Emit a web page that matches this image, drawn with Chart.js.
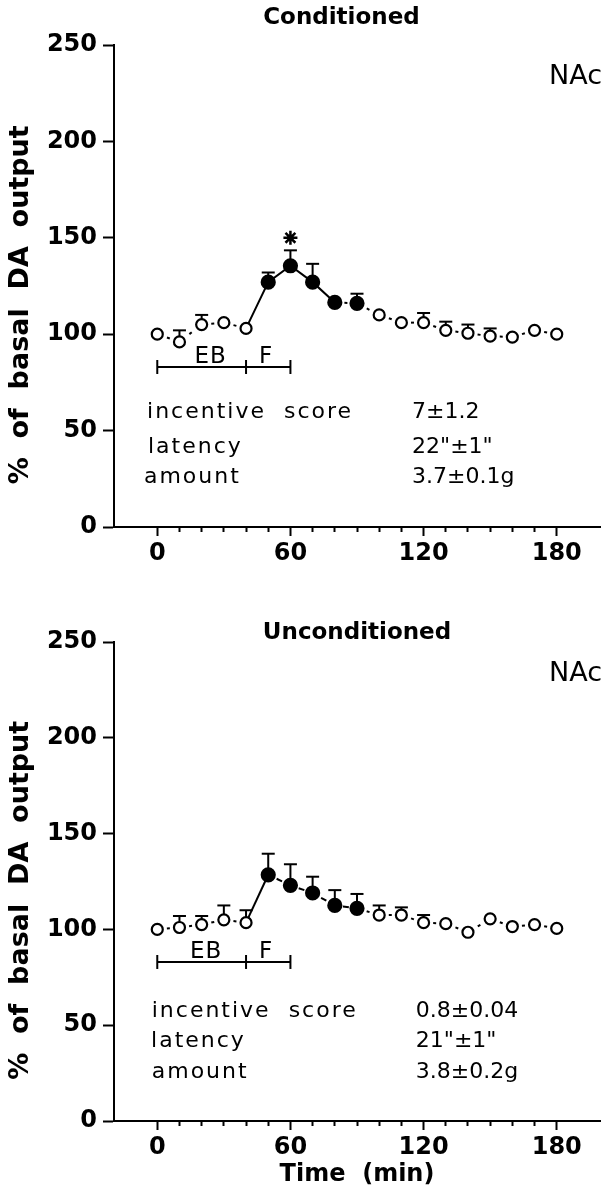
<!DOCTYPE html>
<html>
<head>
<meta charset="utf-8">
<script src="https://cdn.jsdelivr.net/npm/chart.js@4.4.1/dist/chart.umd.min.js"></script>
<style>
  body { margin: 0; background: #fff; }
  canvas { display: block; }
</style>
</head>
<body>
<canvas id="condChart" width="612" height="600"></canvas>
<canvas id="uncondChart" width="612" height="600"></canvas>
<script>
// sampling times (min)
var times = [0, 10, 20, 30, 40, 50, 60, 70, 80, 90, 100, 110, 120, 130, 140, 150, 160, 170, 180];

// Conditioned: % of basal DA output, mean and upper error
var condMean = [100, 96, 105, 106, 103, 127, 135.5, 127, 116.5, 116, 110, 106, 106, 102, 100.5, 99, 98.5, 102, 100];
var condErr  = [0, 6, 5, 0, 0, 5, 8, 9.5, 0, 5, 0, 0, 5, 4.5, 4.5, 4, 0, 0, 0];

// Unconditioned
var uncondMean = [100, 101, 102.5, 105, 103.5, 128.5, 123, 119, 112.5, 111, 107.5, 107.5, 103.5, 103, 98.5, 105.5, 101.5, 102.5, 100.5];
var uncondErr  = [0, 6, 4.5, 7.5, 6.5, 11, 11, 8.5, 8, 7.5, 5, 4, 4, 0, 0, 0, 0, 0, 0];

// samples taken during food (filled symbols)
var filledTimes = [50, 60, 70, 80, 90];
var xLabelTimes = [0, 60, 120, 180];
var yTickStep = 50;

// EB / F bar under the curve
var phaseTimes = [0, 40, 60];
var phaseNames = ['EB', 'F'];
var phaseLevel = 83;

// significant point (conditioned only)
var condStar = [60];
var starLevel = 150;

var condInfo = [['incentive  score', '7±1.2'], ['latency', '22"±1"'], ['amount', '3.7±0.1g']];
var uncondInfo = [['incentive  score', '0.8±0.04'], ['latency', '21"±1"'], ['amount', '3.8±0.2g']];

Chart.defaults.font.family = '"DejaVu Sans"';
Chart.defaults.color = '#000';

// line between two symbols: solid, or one short dash / dot in the middle
function segDash(kinds, which) {
  return function(ctx) {
    var kind = kinds[ctx.p0DataIndex];
    if (kind === 'solid') return which === 'dash' ? [] : 0;
    var len = Math.hypot(ctx.p1.x - ctx.p0.x, ctx.p1.y - ctx.p0.y);
    var d = kind === 'dash' ? 6 : 3;
    if (which === 'dash') return [d, len];
    return len / 2 + 1.5 * d;
  };
}

var panelText = {
  id: 'panelText',
  afterDatasetsDraw: function(chart, args, opts) {
    var ctx = chart.ctx, xs = chart.scales.x, ys = chart.scales.y, area = chart.chartArea;
    ctx.save();
    ctx.fillStyle = '#000';
    ctx.textBaseline = 'middle';
    ctx.textAlign = 'center';
    ctx.font = 'bold ' + opts.titleSize + 'px "DejaVu Sans"';
    ctx.fillText(opts.title, xs.getPixelForValue(opts.titleX), area.top + opts.titleDy);

    ctx.textAlign = 'right';
    ctx.font = '27px "DejaVu Sans"';
    ctx.fillText('NAc', area.right + 2, area.top + 32);

    ctx.textBaseline = 'alphabetic';
    ctx.letterSpacing = '1px';
    ctx.textAlign = 'center';
    ctx.font = '23px "DejaVu Sans"';
    phaseNames.forEach(function(n, i) {
      ctx.fillText(n, xs.getPixelForValue(opts.phaseX[i]), ys.getPixelForValue(phaseLevel + 2));
    });

    ctx.textAlign = 'left';
    ctx.font = '22px "DejaVu Sans"';
    opts.info.forEach(function(row, i) {
      var y = ys.getPixelForValue(opts.infoY[i]);
      ctx.letterSpacing = '2px';
      ctx.fillText(row[0], xs.getPixelForValue(opts.labelX[i]), y);
      ctx.letterSpacing = '0px';
      ctx.fillText(row[1], xs.getPixelForValue(opts.valueX), y);
    });
    ctx.restore();
  }
};

function makePanel(id, mean, err, p) {
  var main = times.map(function(t, i) { return {x: t, y: mean[i]}; });
  var isFilled = times.map(function(t) { return filledTimes.indexOf(t) >= 0; });
  var stems = [], caps = [];
  times.forEach(function(t, i) {
    if (err[i] > 0) {
      stems.push({x: t, y: mean[i]}, {x: t, y: mean[i] + err[i]}, {x: t, y: null});
      caps.push({x: t, y: mean[i] + err[i]});
    }
  });

  var datasets = [
    {
      data: main,
      order: 0,
      borderColor: '#000',
      borderWidth: 2,
      pointRadius: isFilled.map(function(f) { return f ? 6.5 : 5.5; }),
      pointBackgroundColor: isFilled.map(function(f) { return f ? '#000' : '#fff'; }),
      pointBorderColor: '#000',
      pointBorderWidth: 2.2,
      segment: {borderDash: segDash(p.segKinds, 'dash'), borderDashOffset: segDash(p.segKinds, 'offset')}
    },
    {
      data: stems, order: 3, spanGaps: false,
      borderColor: '#000', borderWidth: 2, pointRadius: 0
    },
    {
      data: caps, order: 2, showLine: false,
      pointStyle: 'line', pointRadius: 6.5, pointBorderWidth: 2, pointBorderColor: '#000'
    },
    {
      data: phaseTimes.map(function(t) { return {x: t, y: phaseLevel}; }),
      order: 1, borderColor: '#000', borderWidth: 2,
      pointStyle: 'line', pointRotation: 90, pointRadius: 7, pointBorderWidth: 2, pointBorderColor: '#000'
    }
  ];
  if (p.star) {
    datasets.push({
      data: p.star.map(function(t) { return {x: t, y: starLevel}; }),
      order: 1, showLine: false,
      pointStyle: 'star', pointRadius: 7, pointBorderWidth: 2.5, pointBorderColor: '#000'
    });
  }

  var tickFont = {family: '"DejaVu Sans"', weight: 'bold', size: 24};

  return new Chart(document.getElementById(id), {
    type: 'line',
    data: {datasets: datasets},
    options: {
      responsive: false,
      animation: false,
      events: [],
      layout: {padding: {top: p.top, right: 12, left: 0, bottom: 0}},
      plugins: {
        legend: {display: false},
        tooltip: {enabled: false},
        panelText: p.text
      },
      scales: {
        x: {
          type: 'linear', min: -19.5, max: 199.5,
          border: {color: '#000', width: 2},
          grid: {
            drawOnChartArea: false, tickLength: 9, tickWidth: 2,
            tickColor: function(c) {
              var v = c.tick ? c.tick.value : 0;
              return (v < 0 || v > 180) ? 'rgba(0,0,0,0)' : '#000';
            },
            tickBorderDash: function(c) {
              var v = c.tick ? c.tick.value : 0;
              return v % 60 === 0 ? [] : [4, 30];
            }
          },
          ticks: {
            stepSize: 10, autoSkip: false, maxRotation: 0, minRotation: 0, padding: 3,
            color: '#000', font: tickFont,
            callback: function(v) { return xLabelTimes.indexOf(v) >= 0 ? String(v) : ''; }
          },
          title: {
            display: !!p.xTitle, text: p.xTitle || '', color: '#000',
            font: {family: '"DejaVu Sans"', weight: 'bold', size: 24},
            padding: {top: 0, bottom: 11}
          },
          afterFit: function(s) { s.height = p.xHeight; }
        },
        y: {
          min: 0, max: 250,
          border: {color: '#000', width: 2},
          grid: {drawOnChartArea: false, tickLength: 11, tickWidth: 2, tickColor: '#000'},
          ticks: {stepSize: yTickStep, padding: 6, color: '#000', font: tickFont},
          title: {
            display: true, text: '%  of  basal  DA  output    ', color: '#000',
            font: {family: '"DejaVu Sans"', weight: 'bold', size: 27},
            padding: {top: 5, bottom: 0}
          },
          afterFit: function(s) { s.width = 114; }
        }
      }
    },
    plugins: [panelText]
  });
}

makePanel('condChart', condMean, condErr, {
  top: 45, xHeight: 73, star: condStar,
  segKinds: ['dot', 'dot', 'dot', 'dot', 'solid', 'solid', 'solid', 'solid', 'dot', 'dot', 'dot', 'dot', 'dot', 'dot', 'dot', 'dot', 'dot', 'dot'],
  text: {
    title: 'Conditioned', titleSize: 23, titleX: 83, titleDy: -27,
    phaseX: [24, 49],
    info: condInfo, infoY: [56.4, 38.2, 22.7], labelX: [-4.6, -4.2, -6], valueX: 114.8
  }
});

makePanel('uncondChart', uncondMean, uncondErr, {
  top: 42, xHeight: 79, xTitle: 'Time  (min)',
  segKinds: ['dot', 'dot', 'dot', 'dot', 'solid', 'dash', 'dash', 'dash', 'dash', 'dot', 'dot', 'dot', 'dot', 'dot', 'dot', 'dot', 'dot', 'dot'],
  text: {
    title: 'Unconditioned', titleSize: 23, titleX: 90, titleDy: -9,
    phaseX: [22, 49],
    info: uncondInfo, infoY: [54.4, 38.8, 22.3], labelX: [-2.5, -2.8, -2.5], valueX: 116.5
  }
});
</script>
</body>
</html>
